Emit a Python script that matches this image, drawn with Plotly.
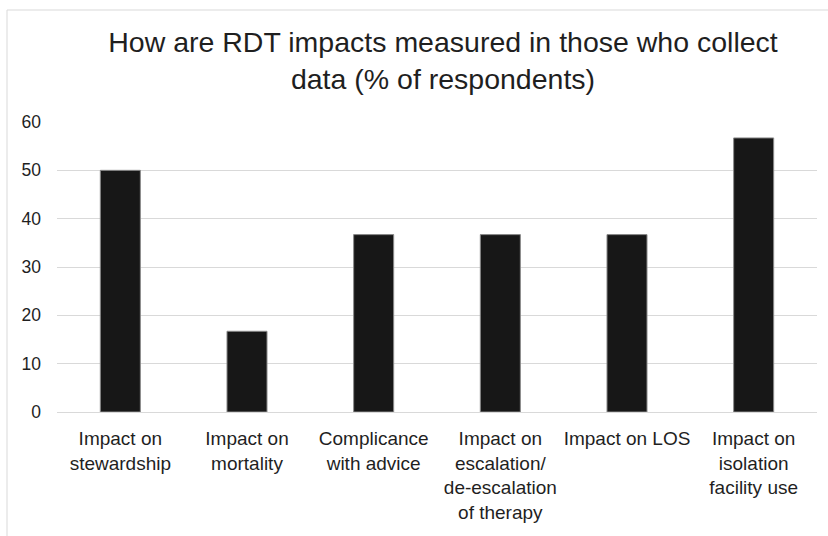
import plotly.graph_objects as go

categories = [
    "Impact on<br>stewardship",
    "Impact on<br>mortality",
    "Complicance<br>with advice",
    "Impact on<br>escalation/<br>de-escalation<br>of therapy",
    "Impact on LOS",
    "Impact on<br>isolation<br>facility use",
]
values = [50.0, 16.7, 36.7, 36.7, 36.7, 56.7]
y_ticks = [0, 10, 20, 30, 40, 50, 60]

FONT = "Liberation Sans, Arial, sans-serif"
TXT = "#1f1f1f"

fig = go.Figure(
    go.Bar(
        x=categories,
        y=values,
        marker=dict(color="#171717", line=dict(color="#8a8a8a", width=1)),
        width=0.316,
    )
)

fig.update_layout(
    width=828,
    height=536,
    paper_bgcolor="white",
    plot_bgcolor="white",
    margin=dict(l=57, r=11, t=122, b=124),
    showlegend=False,
    title=dict(
        text="How are RDT impacts measured in those who collect<br>data (% of respondents)",
        font=dict(family=FONT, size=28.5, color=TXT),
        x=443 / 828,
        xanchor="center",
        xref="container",
        y=1 - 52 / 536,
        yanchor="top",
        yref="container",
    ),
    font=dict(family=FONT, color=TXT),
)

fig.update_xaxes(
    showgrid=False,
    showline=False,
    ticks="",
    tickfont=dict(family=FONT, size=19, color=TXT),
    tickangle=0,
    ticklabelstandoff=13,
)
fig.update_yaxes(
    range=[0, 60],
    tickvals=y_ticks,
    showgrid=True,
    gridcolor="#d9d9d9",
    gridwidth=1,
    zeroline=True,
    zerolinecolor="#d9d9d9",
    zerolinewidth=1,
    showline=False,
    ticks="",
    tickfont=dict(family=FONT, size=17.5, color=TXT),
    ticklabelstandoff=15,
)

# outer chart frame (light gray), partially cut at right/bottom
fig.add_shape(
    type="rect",
    xref="paper",
    yref="paper",
    x0=(7 - 57) / 760,
    x1=1.2,
    y0=-1.0,
    y1=1 + (122 - 10) / 290,
    line=dict(color="#d9d9d9", width=1),
    fillcolor="rgba(0,0,0,0)",
    layer="below",
)

fig.write_html("out.html")
